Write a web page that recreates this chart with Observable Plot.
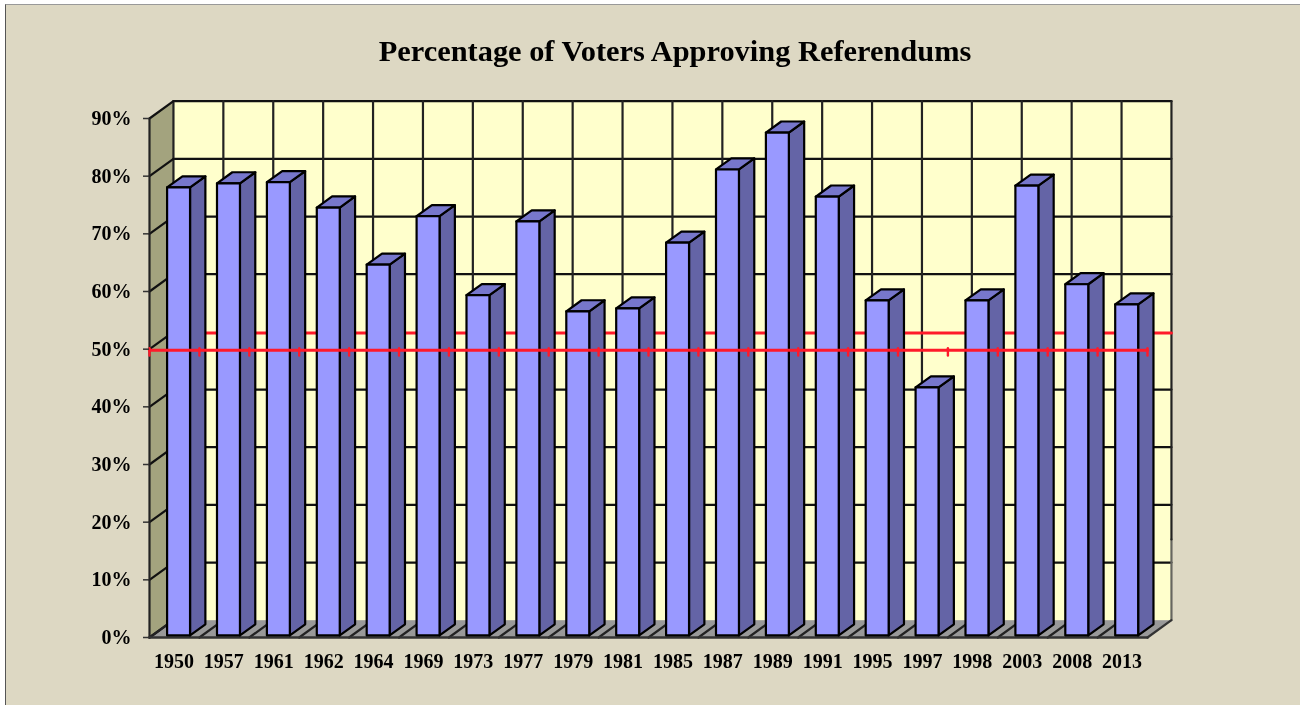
<!DOCTYPE html>
<html>
<head>
<meta charset="utf-8">
<script src="https://cdn.jsdelivr.net/npm/d3@7"></script>
<script src="https://cdn.jsdelivr.net/npm/@observablehq/plot@0.6"></script>
<style>
html,body{margin:0;padding:0;background:#fff;width:1300px;height:705px;overflow:hidden}
#panel{position:absolute;left:5px;top:4px;width:1295px;height:701px;background:#DDD8C3;border-left:1px solid #555;border-top:1px solid #999;box-sizing:border-box}
#title{position:absolute;left:0;top:35px;width:1300px;text-align:center;padding-left:50px;box-sizing:border-box;font:bold 30.4px "Liberation Serif",serif;color:#000;line-height:32px;filter:blur(0.35px)}
#chart{position:absolute;left:0;top:80px;filter:blur(0.35px)}
</style>
</head>
<body>
<div id="panel"></div>
<div id="title">Percentage of Voters Approving Referendums</div>
<div id="chart"></div>
<script>
const years = ["1950","1957","1961","1962","1964","1969","1973","1977","1979","1981","1985","1987","1989","1991","1995","1997","1998","2003","2008","2013"];
const approvals = [77.7,78.4,78.6,74.2,64.3,72.7,59.0,71.8,56.2,56.7,68.1,80.8,87.2,76.1,58.1,43.0,58.1,78.0,60.9,57.4];
const percentTicks = [0,10,20,30,40,50,60,70,80,90];
const threshold = [49.8];

// oblique projection: depth 0 = front plane, depth 1 = back wall
const DX = 0.48, DY = 3;
const P = (c, v, d = 0) => ({x: c + d * DX, y: v + d * DY});
const n = years.length;
const boundaries = d3.range(n + 1);
const black = {stroke: "#000", strokeWidth: 2.2, strokeLinejoin: "round"};
const RED = "#FF1A2A";

const poly = (pts, fill, extra = {}) => Plot.line([...pts, pts[0]], {x: "x", y: "y", fill, stroke: "none", ...extra});
const seg = (pts, stroke, strokeWidth = 2.2) => Plot.line(pts, {x: "x", y: "y", stroke, strokeWidth});

const marks = [];
// walls
marks.push(poly([P(0,0,1),P(n,0,1),P(n,90,1),P(0,90,1)], "#FFFFCC"));
marks.push(poly([P(0,0,0),P(0,0,1),P(0,90,1),P(0,90,0)], "#A3A37E"));
marks.push(poly([P(0,0,0),P(n,0,0),P(n,0,1),P(0,0,1)], "#999999"));
// grid on back wall; the 50% line is covered by the red one
for (const t of percentTicks) if (t > 0 && t !== 50) marks.push(seg([P(0,t,1),P(n,t,1)], "#111"));
for (const b of boundaries.slice(0, n)) marks.push(seg([P(b,0,1),P(b,90,1)], "#222"));
// right edge of the back wall: dark above, fading to grey near the floor
marks.push(seg([P(n,0,1),P(n,14,1)], "#666660"));
marks.push(seg([P(n,14,1),P(n,90,1)], "#222"));
// grid on left wall and floor
for (const t of percentTicks) marks.push(seg([P(0,t,0),P(0,t,1)], "#111"));
for (const b of boundaries.slice(0, n)) marks.push(seg([P(b,0,0),P(b,0,1)], "#222"));
marks.push(seg([P(0,0,0),P(0,90,0)], "#222"));
marks.push(seg([P(0,0,0),P(n,0,0)], "#333", 2.6));
marks.push(seg([P(n,0,0),P(n,0,1)], "#333"));
// back threshold line
marks.push(seg([P(0,threshold[0],1),P(n,threshold[0],1)], RED, 3));
// bars
const f1 = 0.12, f2 = 0.76, bx0 = 0.295, bx1 = 0.755;
approvals.forEach((v, i) => {
  const a = i + bx0, b = i + bx1;
  marks.push(poly([P(b,0,f1),P(b,0,f2),P(b,v,f2),P(b,v,f1)], "#6464A6", black));
  marks.push(poly([P(a,v,f1),P(b,v,f1),P(b,v,f2),P(a,v,f2)], "#7777CC", black));
  marks.push(poly([P(a,0,f1),P(b,0,f1),P(b,v,f1),P(a,v,f1)], "#9999FF", black));
});
// front threshold line with ticks
marks.push(seg([P(0,threshold[0],0),P(n,threshold[0],0)], RED, 3));
for (const b of boundaries) marks.push(seg([P(b,threshold[0]-0.9,0),P(b,threshold[0]+0.35,0)], RED, 2.4));
// axes
marks.push(Plot.axisY({ticks: percentTicks, tickFormat: d => d + "%", tickSize: 6, tickPadding: 12, fontSize: 20, fontWeight: "bold", stroke: "#333", strokeWidth: 1.5, color: "#000", label: null, marginLeft: 149}));
marks.push(Plot.axisX({ticks: years.map((_, i) => i + 0.5), tickFormat: d => years[Math.floor(d)], tickSize: 0, tickPadding: 16, dx: -0.5, fontSize: 20, fontWeight: "bold", color: "#000", label: null, marginBottom: 68}));

const chart = Plot.plot({
  width: 1300, height: 625,
  marginLeft: 149, marginRight: 153, marginTop: 38, marginBottom: 68,
  style: {background: "transparent", fontFamily: "'Liberation Serif', serif", color: "#000", overflow: "visible"},
  x: {domain: [0, n]},
  y: {domain: [0, 90]},
  marks
});
document.getElementById("chart").append(chart);
</script>
</body>
</html>
